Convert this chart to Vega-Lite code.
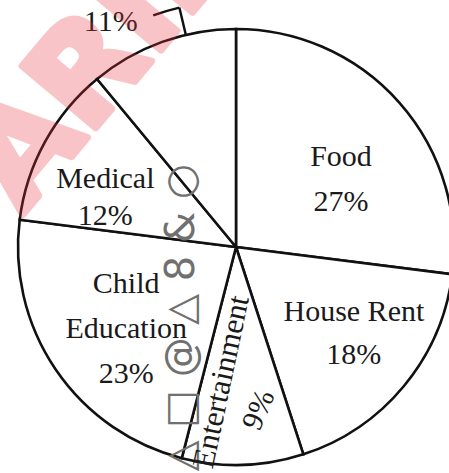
{
  "$schema": "https://vega.github.io/schema/vega-lite/v6.json",
  "width": 426,
  "height": 452,
  "autosize": {"type": "none"},
  "padding": {"left": 23, "top": 21, "right": 0, "bottom": 0},
  "background": "white",
  "config": {"view": {"stroke": null}, "text": {"font": "Liberation Serif", "fontSize": 30, "color": "#1a1a1a"}},
  "data": {"values": [
    {"category": "Food", "value": 27, "order": 1, "name": "Food", "pct": "27%", "label": "Food\n27%"},
    {"category": "House Rent", "value": 18, "order": 2, "name": "House Rent", "pct": "18%", "label": "House Rent\n18%"},
    {"category": "Entertainment", "value": 9, "order": 3, "name": "Entertainment", "pct": "9%", "label": "Entertainment\n9%"},
    {"category": "Child Education", "value": 23, "order": 4, "name": "Child Education", "pct": "23%", "label": "Child\nEducation\n23%"},
    {"category": "Medical", "value": 12, "order": 5, "name": "Medical", "pct": "12%", "label": "Medical\n12%"},
    {"category": "Others", "value": 11, "order": 6, "name": "Others", "pct": "11%", "label": "11%"}
  ]},
  "encoding": {
    "theta": {"field": "value", "type": "quantitative", "stack": true},
    "order": {"field": "order", "type": "quantitative"}
  },
  "layer": [
    {"mark": {"type": "arc", "outerRadius": 218, "fill": "white", "stroke": "#111", "strokeWidth": 2.6}},
    {"data": {"values": [{"doodle": "△ □ @ △ 8 & ○"}]},
     "mark": {"type": "text", "theta": 3.793, "radius": 89, "angle": 270, "align": "center", "baseline": "middle", "font": "DejaVu Sans", "fontSize": 40, "color": "#707070"},
     "encoding": {"text": {"field": "doodle"}, "theta": null, "order": null}},
    {"mark": {"type": "text", "radius": 140, "dy": 3, "lineBreak": "\n", "lineHeight": 45},
     "encoding": {"text": {"condition": {"test": "datum.category === 'Food'", "field": "label"}, "value": ""}}},
    {"mark": {"type": "text", "radius": 140, "dx": 10, "dy": -24, "lineBreak": "\n", "lineHeight": 43},
     "encoding": {"text": {"condition": {"test": "datum.category === 'House Rent'", "field": "label"}, "value": ""}}},
    {"mark": {"type": "text", "radius": 140, "dx": 1, "dy": -19, "angle": 282, "fontSize": 31},
     "encoding": {"text": {"condition": {"test": "datum.category === 'Entertainment'", "field": "name"}, "value": ""}}},
    {"mark": {"type": "text", "radius": 140, "dx": -14, "dy": 26, "angle": 293},
     "encoding": {"text": {"condition": {"test": "datum.category === 'Entertainment'", "field": "pct"}, "value": ""}}},
    {"mark": {"type": "text", "radius": 140, "dx": 6, "dy": -42, "lineBreak": "\n", "lineHeight": 45},
     "encoding": {"text": {"condition": {"test": "datum.category === 'Child Education'", "field": "label"}, "value": ""}}},
    {"mark": {"type": "text", "radius": 140, "dx": -8, "dy": -1, "lineBreak": "\n", "lineHeight": 37},
     "encoding": {"text": {"condition": {"test": "datum.category === 'Medical'", "field": "label"}, "value": ""}}},
    {"mark": {"type": "text", "radius": 240, "dx": -44, "dy": 1},
     "encoding": {"text": {"condition": {"test": "datum.category === 'Others'", "field": "label"}, "value": ""}}},
    {"data": {"values": [{"part": "leader"}]},
     "mark": {"type": "arc", "theta": 6.051, "theta2": 6.051, "radius": 246, "radius2": 218, "fill": null, "stroke": "#111", "strokeWidth": 2.4},
     "encoding": {"theta": null, "order": null}},
    {"data": {"values": [{"part": "leader"}]},
     "mark": {"type": "arc", "theta": 5.94, "theta2": 6.051, "radius": 246, "radius2": 246, "fill": null, "stroke": "#111", "strokeWidth": 2.4},
     "encoding": {"theta": null, "order": null}},
    {"data": {"values": [{"wm": "ARIHANT"}]},
     "mark": {"type": "text", "theta": 4.943, "radius": 251, "angle": -50, "align": "left", "baseline": "middle", "font": "DejaVu Sans", "fontWeight": "bold", "fontSize": 132, "color": "#e8303a", "stroke": "#e8303a", "strokeWidth": 7, "strokeJoin": "round", "opacity": 0.28},
     "encoding": {"text": {"field": "wm"}, "theta": null, "order": null}}
  ]
}
